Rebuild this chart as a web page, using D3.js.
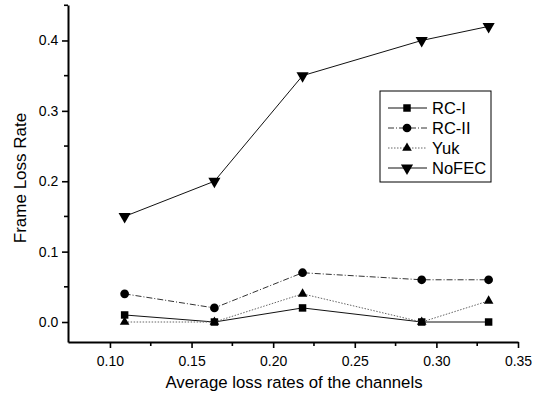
<!DOCTYPE html>
<html>
<head>
<meta charset="utf-8">
<script src="https://cdn.jsdelivr.net/npm/d3@7"></script>
<style>
  body { margin: 0; background: #fff; }
  text { font-family: "Liberation Sans", Arial, sans-serif; fill: #000; }
</style>
</head>
<body>
<svg id="vis" width="543" height="397"></svg>
<script>
// data
const lossRates = [0.109, 0.164, 0.218, 0.291, 0.332];
const rc1 = [0.01, 0.0, 0.02, 0.0, 0.0];
const rc2 = [0.04, 0.02, 0.07, 0.06, 0.06];
const yuk = [0.0, 0.0, 0.04, 0.0, 0.03];
const nofec = [0.15, 0.2, 0.35, 0.4, 0.42];
const seriesNames = ["RC-I", "RC-II", "Yuk", "NoFEC"];
const xTicks = [0.10, 0.15, 0.20, 0.25, 0.30, 0.35];
const yTicks = [0.0, 0.1, 0.2, 0.3, 0.4];

const svg = d3.select("svg#vis");

// scales
const x = d3.scaleLinear().domain([0.0743, 0.35]).range([68, 518]);
const y = d3.scaleLinear().domain([-0.0284, 0.4504]).range([342, 5]);

const series = [
	{ name: seriesNames[0], values: rc1, symbol: d3.symbolSquare, size: 56, dash: null, color: "#111" },
	{ name: seriesNames[1], values: rc2, symbol: d3.symbolCircle, size: 60, dash: "6,2,1,2", color: "#333" },
	{ name: seriesNames[2], values: yuk, symbol: d3.symbolTriangle, size: 40, dash: "1.5,1.5", color: "#666" },
	{ name: seriesNames[3], values: nofec, symbol: d3.symbolTriangle, size: 64, dash: null, color: "#111", flip: true }
];

// axes
const xAxis = d3.axisBottom(x).tickValues(xTicks).tickFormat(d3.format(".2f")).tickSizeInner(6).tickSizeOuter(0);
const yAxis = d3.axisLeft(y).tickValues(yTicks).tickFormat(d3.format(".1f")).tickSizeInner(6).tickSizeOuter(0);

const gx = svg.append("g").attr("transform", translate(0, 342)).call(xAxis);
const gy = svg.append("g").attr("transform", translate(68, 0)).call(yAxis);

// minor ticks
gx.selectAll("line.minor")
	.data([0.125, 0.175, 0.225, 0.275, 0.325])
	.enter().append("line")
	.attr("class", "minor")
	.attr("x1", d => x(d)).attr("x2", d => x(d))
	.attr("y1", 0).attr("y2", 4);
gy.selectAll("line.minor")
	.data([0.05, 0.15, 0.25, 0.35, 0.45])
	.enter().append("line")
	.attr("class", "minor")
	.attr("y1", d => y(d)).attr("y2", d => y(d))
	.attr("x1", 0).attr("x2", -4);

[gx, gy].forEach(g => {
	g.select(".domain").attr("stroke", "#000").attr("stroke-width", 2);
	g.selectAll("line").attr("stroke", "#000").attr("stroke-width", 1.6);
	g.selectAll("text").style("font-size", "14px").attr("fill", "#000");
});
gx.selectAll(".tick text").attr("dy", "1.05em");
gy.selectAll(".tick text").attr("dx", "-0.05em");

// axis titles
svg.append("text")
	.attr("x", 294).attr("y", 388)
	.attr("text-anchor", "middle")
	.style("font-size", "16.8px")
	.text("Average loss rates of the channels");
svg.append("text")
	.attr("transform", "translate(26,178) rotate(-90)")
	.attr("text-anchor", "middle")
	.style("font-size", "17px")
	.text("Frame Loss Rate");

// lines and markers
const line = d3.line().x((d, i) => x(lossRates[i])).y(d => y(d));

series.forEach(s => {
	svg.append("path")
		.datum(s.values)
		.attr("d", line)
		.attr("fill", "none")
		.attr("stroke", s.color)
		.attr("stroke-width", 1)
		.attr("stroke-dasharray", s.dash);

	svg.selectAll(null)
		.data(s.values)
		.enter().append("path")
		.attr("d", d3.symbol().type(s.symbol).size(s.size))
		.attr("transform", (d, i) => translate(x(lossRates[i]), y(d)) + (s.flip ? " rotate(180)" : ""))
		.attr("fill", "#000");
});

// legend
const legend = svg.append("g").attr("transform", translate(380, 91));
legend.append("rect")
	.attr("width", 111).attr("height", 91)
	.attr("fill", "#fff").attr("stroke", "#000").attr("stroke-width", 1);

const items = legend.selectAll("g.item")
	.data(series)
	.enter().append("g")
	.attr("class", "item")
	.attr("transform", (d, i) => translate(0, 17 + i * 20));

items.append("line")
	.attr("x1", 8).attr("x2", 47)
	.attr("stroke", d => d.color)
	.attr("stroke-width", 1)
	.attr("stroke-dasharray", d => d.dash);
items.append("path")
	.attr("d", d => d3.symbol().type(d.symbol).size(d.size)())
	.attr("transform", d => translate(27, 0) + (d.flip ? " rotate(180)" : ""))
	.attr("fill", "#000");
items.append("text")
	.attr("x", 52).attr("dy", "0.36em")
	.style("font-size", "16.5px")
	.text(d => d.name);

function translate(a, b) {
	return "translate(" + a + "," + b + ")";
}
</script>
</body>
</html>
